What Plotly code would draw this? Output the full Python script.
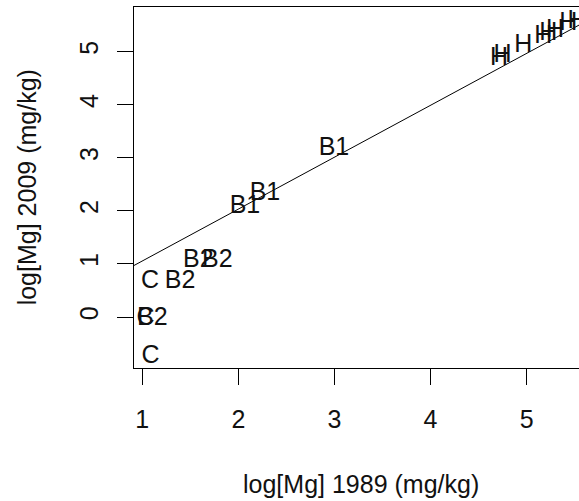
import plotly.graph_objects as go

# Sample groups and their log-transformed Mg concentrations
labels = ["C", "C", "C",
          "B2", "B2", "B2", "B2",
          "B1", "B1", "B1",
          "H", "H", "H", "H", "H", "H", "H", "H"]
log_mg_1989 = [1.087, 1.035, 1.08,
               1.104, 1.394, 1.583, 1.782,
               2.069, 2.277, 2.995,
               4.712, 4.750, 4.965, 5.173, 5.225, 5.295, 5.433, 5.520]
log_mg_2009 = [-0.754, -0.03, 0.66,
               -0.03, 0.66, 1.068, 1.068,
               2.073, 2.325, 3.173,
               4.869, 4.931, 5.120, 5.276, 5.340, 5.402, 5.529, 5.559]

# Fitted regression line (abline)
fit_intercept = 0.077
fit_slope = 0.978

x_ticks = [1, 2, 3, 4, 5]
y_ticks = [0, 1, 2, 3, 4, 5]
x_range = [0.914, 5.545]
y_range = [-0.961, 5.841]

FONT = "Liberation Sans, Arial, sans-serif"
FS = 25

fig = go.Figure()

fig.add_trace(go.Scatter(
    x=x_range,
    y=[fit_intercept + fit_slope * v for v in x_range],
    mode="lines",
    line=dict(color="black", width=1),
    hoverinfo="skip",
    showlegend=False,
))

fig.add_trace(go.Scatter(
    x=log_mg_1989,
    y=log_mg_2009,
    mode="text",
    text=labels,
    textposition="middle center",
    textfont=dict(family=FONT, size=FS, color="#111111"),
    cliponaxis=True,
    showlegend=False,
))

fig.update_layout(
    width=579,
    height=501,
    margin=dict(l=134, r=0, t=7, b=133),
    paper_bgcolor="white",
    plot_bgcolor="white",
    font=dict(family=FONT, size=FS, color="black"),
    xaxis=dict(
        range=x_range,
        tickvals=x_ticks,
        ticktext=[str(v) for v in x_ticks],
        ticks="outside",
        ticklen=16,
        tickwidth=1,
        tickcolor="black",
        showline=True,
        linecolor="black",
        linewidth=1,
        mirror=True,
        showgrid=False,
        zeroline=False,
        tickfont=dict(family=FONT, size=FS, color="#111111"),
        ticklabelstandoff=13,
    ),
    yaxis=dict(
        range=y_range,
        tickvals=y_ticks,
        ticktext=[str(v) for v in y_ticks],
        ticks="outside",
        ticklen=16,
        tickwidth=1,
        tickcolor="black",
        tickangle=-90,
        showline=True,
        linecolor="black",
        linewidth=1,
        showgrid=False,
        zeroline=False,
        tickfont=dict(family=FONT, size=FS, color="#111111"),
        ticklabelstandoff=9,
    ),
    annotations=[
        dict(text="log[Mg] 1989 (mg/kg)", xref="paper", yref="paper",
             x=0.509, y=-0.320, xanchor="center", yanchor="middle",
             showarrow=False, font=dict(family=FONT, size=FS, color="#111111")),
        dict(text="log[Mg] 2009 (mg/kg)", xref="paper", yref="paper",
             x=-0.2400, y=0.501, xanchor="center", yanchor="middle",
             textangle=-90, showarrow=False,
             font=dict(family=FONT, size=FS, color="#111111")),
    ],
)

fig.write_html("out.html")
